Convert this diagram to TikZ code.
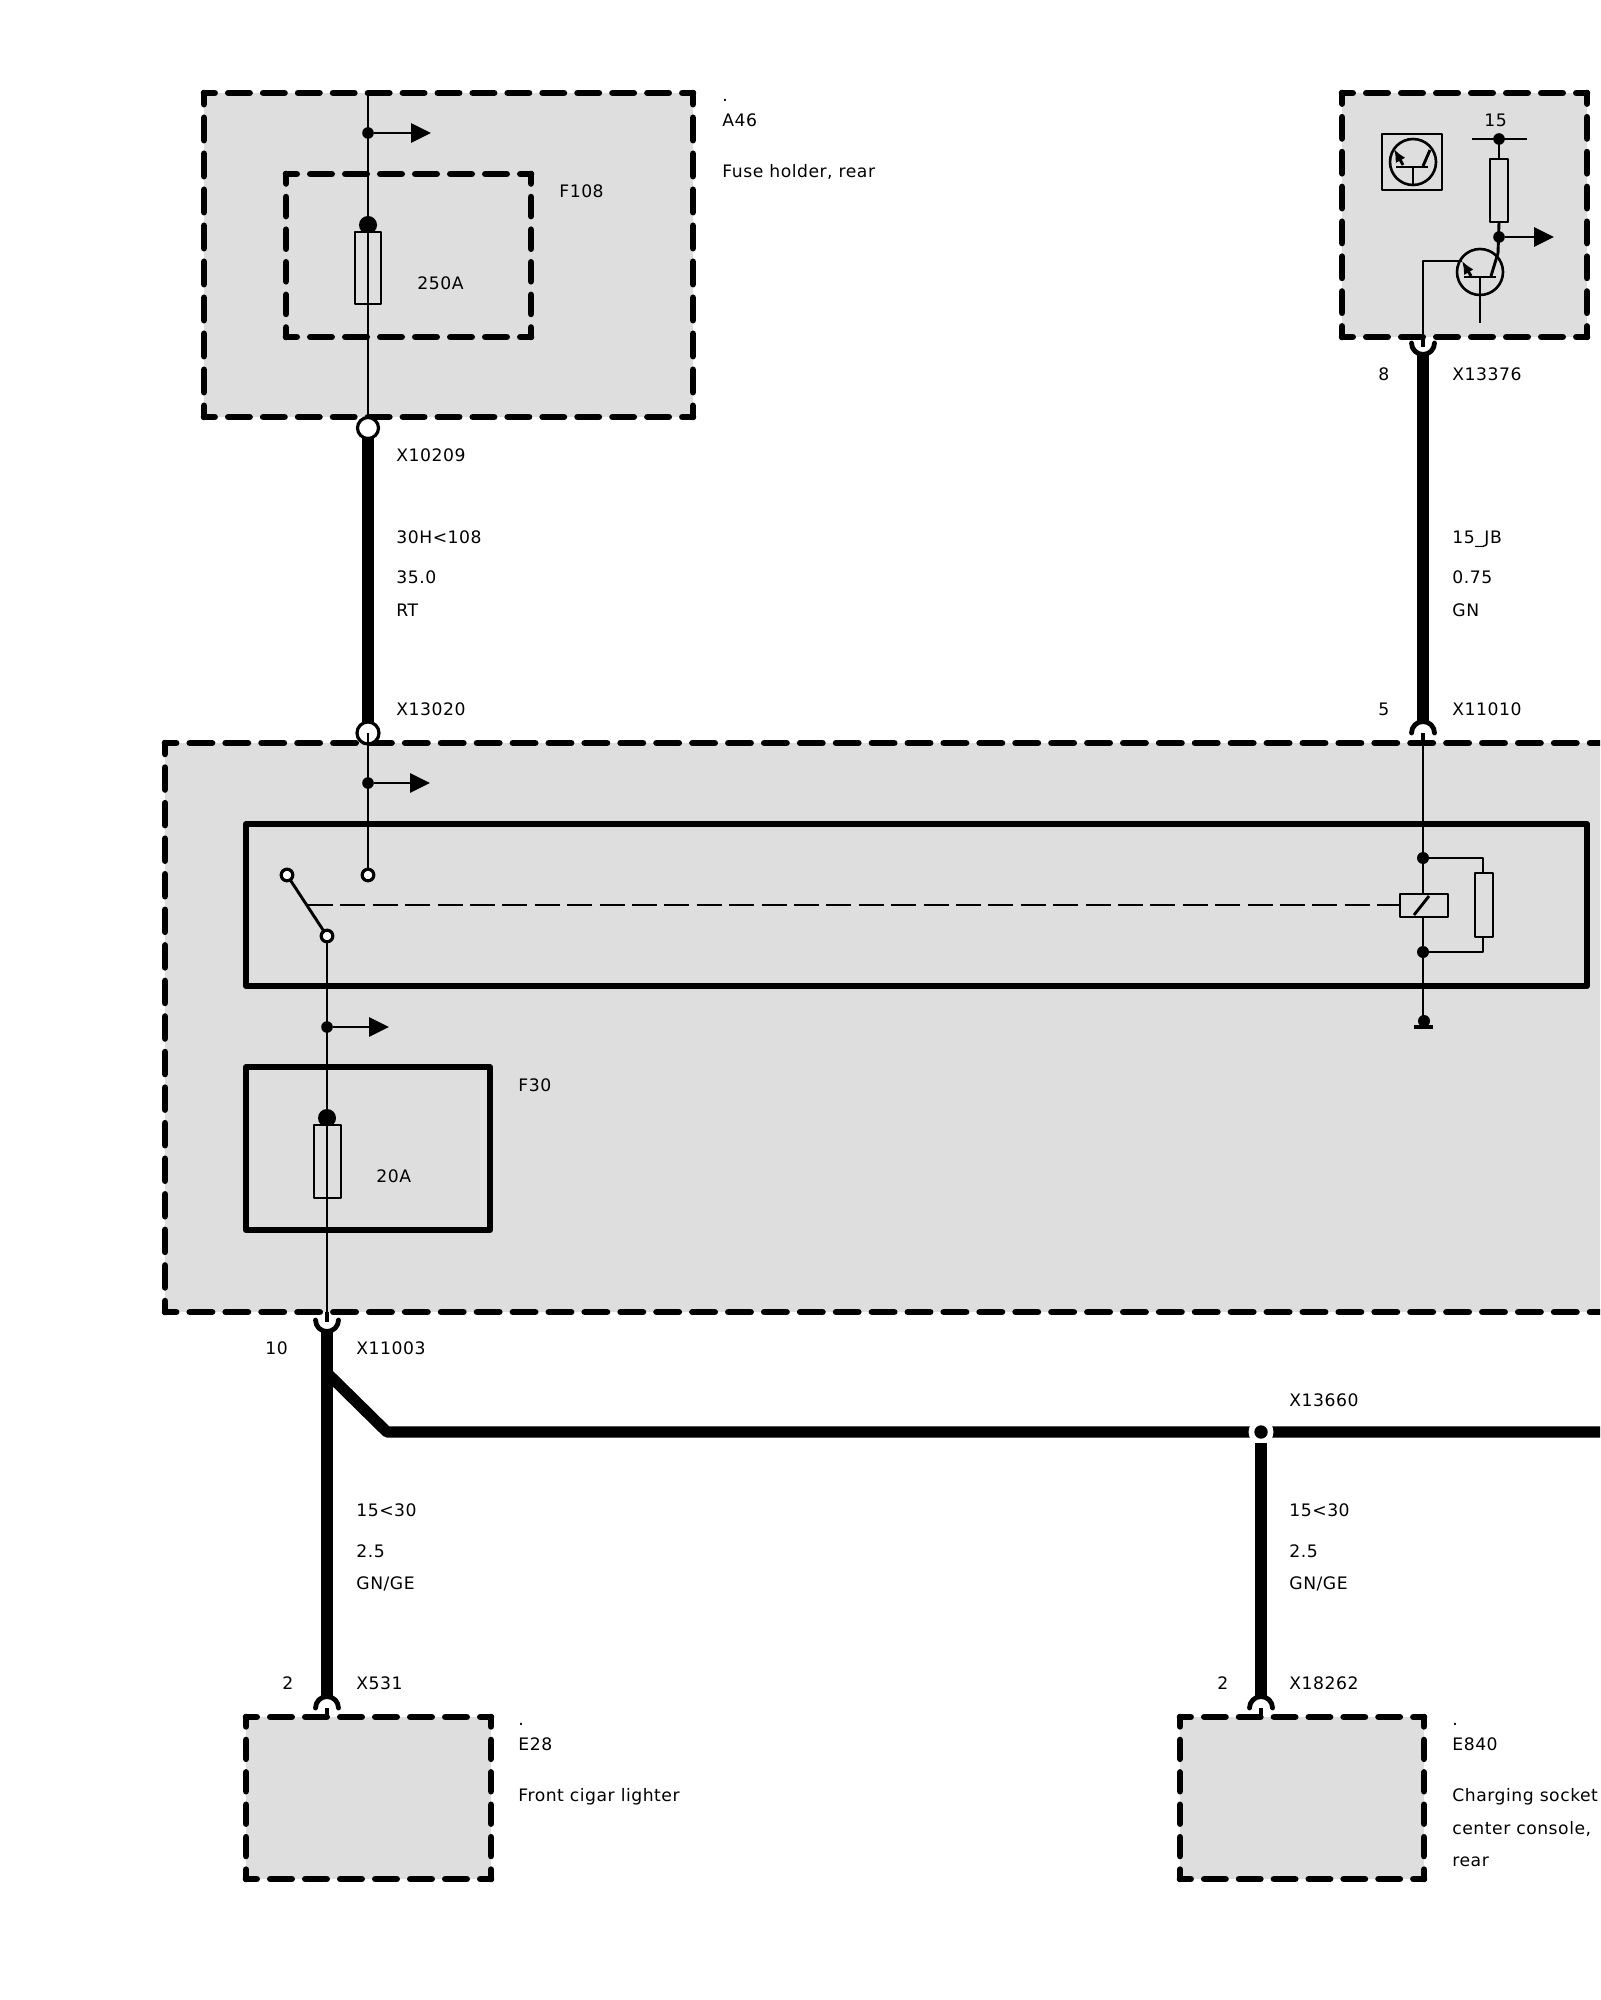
\documentclass[tikz,border=0pt]{standalone}
\usepackage{fontspec}
\setmainfont[LetterSpace=3]{DejaVu Sans}
\usetikzlibrary{arrows.meta,calc,positioning}

\definecolor{boxgray}{HTML}{DEDEDE}

\tikzset{
	lbl/.style={anchor=base west, inner sep=0pt, font=\fontsize{8.6}{10}\selectfont},
	dashside/.style={draw=black, line width=3.3pt, line cap=round},
	solidbox/.style={draw=black, line width=3pt, line join=round},
	wire/.style={draw=black, line width=1.45pt},
	stub/.style={draw=black, line width=2.4pt},
	cable/.style={draw=black, line width=5.6pt},
	elem/.style={draw=black, fill=boxgray, line width=1.3pt},
	tap/.style={draw=black, line width=1.45pt, -{Triangle[length=10pt,width=9.5pt]}},
	blob/.style={circle, fill=black, inner sep=0pt, minimum size=5.8pt},
	ring/.style={circle, draw=black, fill=white, line width=1.6pt, inner sep=0pt},
	cup/.style={draw=black, line width=2.4pt, line cap=round},
	emit/.style={draw=black, line width=1.45pt, -{Latex[length=6.5pt,width=5.5pt]}},
}

% grey unit with a dashed edge: corners x1,y1,x2,y2, then dash periods across and down
\newcommand{\dashrect}[6]{
	\fill[boxgray] (#1,#2) rectangle (#3,#4);
	\pgfmathsetmacro{\onx}{(#3-#1)/#5/2-6.8}
	\pgfmathsetmacro{\ony}{(#4-#2)/#6/2-6.8}
	\pgfmathsetmacro{\phx}{\onx/2}
	\pgfmathsetmacro{\phy}{\ony/2}
	\draw[dashside, dash pattern=on \onx pt off 6.8pt, dash phase=\phx pt] (#1,#2) -- (#3,#2) (#1,#4) -- (#3,#4);
	\draw[dashside, dash pattern=on \ony pt off 6.8pt, dash phase=\phy pt] (#1,#2) -- (#1,#4) (#3,#2) -- (#3,#4);
}

\begin{document}
\begin{tikzpicture}[x=0.5pt, y=-0.5pt, line join=round]
	
	\useasboundingbox (0,0) rectangle (1600,2000);
	\clip (0,0) rectangle (1600,2000);
	
	% grey units first, the wires run over them
	\dashrect{204}{93}{693}{417}{14}{9}
	\dashrect{1342}{93}{1587}{337}{7}{7}
	\dashrect{165}{743}{1673}{1312}{42}{16}
	\dashrect{246}{1717}{491}{1879}{7}{5}
	\dashrect{1180}{1717}{1424}{1879}{7}{5}
	
	\dashrect{286}{174}{531}{337}{7}{5}
	\draw[solidbox] (246,824) rectangle (1587,986);
	\draw[solidbox] (246,1067) rectangle (490,1230);
	
	% fuse holder
	\coordinate (a46top) at (368,93);
	\coordinate (a46out) at (368,428);
	\coordinate (x13020) at (368,733);
	\node[blob, minimum size=9pt] (f108cap) at (368,225) {};
	\draw[elem] (355,232) rectangle (381,304);
	\draw[wire] (a46top) -- (a46out);
	\node[blob] (f108tap) at (368,133) {};
	\coordinate (f108arr) at (431,133);
	\draw[tap] (f108tap) -- (f108arr);
	\draw[cable] (a46out) -- (x13020);
	\node[ring, minimum size=10.5pt] (x10209) at (a46out) {};
	\node[ring, minimum size=11pt] (x13020c) at (x13020) {};
	
	% control unit, top right
	\draw[elem] (1382,134) rectangle (1442,190);
	\coordinate (ic) at (1413,162);
	\draw[elem] (ic) circle (23);
	\draw[wire] (1396,167) -- (1428,167) (1413,167) -- (1413,185);
	\draw[wire] (1430,150) -- (1423,166);
	\draw[emit] (1403,165) -- (1394,149);
	
	\coordinate (t15) at (1499,139);
	\coordinate (tc) at (1498,253);
	\coordinate (tout) at (1499,237);
	\coordinate (tb) at (1480,272);
	\draw[elem] (tb) circle (23);
	\draw[wire] (1472,139) -- (1527,139);
	\draw[wire] (t15) -- (1499,159);
	\draw[elem] (1490,159) rectangle (1508,222);
	\draw[wire] (1499,222) -- (tc) -- (1491,276);
	\draw[wire] (1464,277) -- (1496,277) (1480,277) -- (1480,323);
	\draw[emit] (1471,276) -- (1462,261);
	\node[blob] (t15dot) at (t15) {};
	\node[blob] (toutdot) at (tout) {};
	\coordinate (toutarr) at (1554,237);
	\draw[tap] (toutdot) -- (toutarr);
	
	\coordinate (x13376) at (1423,337);
	\coordinate (x13376b) at (1423,347);
	\coordinate (x11010) at (1423,733);
	\draw[wire] (1462,261) -- (1423,261) -- (x13376);
	\draw[stub] (x13376) -- (x13376b);
	\draw[cup] (1411.5,343) arc (180:0:11.5);
	\draw[cable] (1423,353) -- (1423,722);
	\draw[cup] (1411.5,733) arc (180:360:11.5);
	\draw[stub] (x11010) -- (1423,743);
	
	% relay
	\coordinate (relaygnd) at (1423,1027);
	\coordinate (rtop) at (1423,858);
	\coordinate (rbot) at (1423,952);
	\draw[wire] (x11010) -- (relaygnd);
	\draw[elem] (1400,894) rectangle (1448,917);
	\draw[wire] (1414,915) -- (1429,896);
	\draw[wire] (rtop) -- (1483,858) -- (1483,873);
	\draw[wire] (rbot) -- (1483,952) -- (1483,937);
	\draw[elem] (1475,873) rectangle (1493,937);
	\node[blob, minimum size=6pt] (rtopdot) at (rtop) {};
	\node[blob, minimum size=6pt] (rbotdot) at (rbot) {};
	\node[blob, minimum size=6pt] (gnd) at (1424,1021) {};
	\draw[draw=black, line width=1.7pt] (1414,1027) -- (1433,1027);
	
	% switch
	\coordinate (swin) at (368,875);
	\coordinate (swa) at (287,875);
	\coordinate (swb) at (327,936);
	\draw[wire] (x13020) -- (swin);
	\node[blob] (swtap) at (368,783) {};
	\coordinate (swarr) at (430,783);
	\draw[tap] (swtap) -- (swarr);
	\draw[wire] (swa) -- (swb);
	\draw[draw=black, line width=1.25pt, dash pattern=on 12.5pt off 3.7pt] (308,905) -- (1400,905);
	\node[ring, minimum size=5.8pt] (swind) at (swin) {};
	\node[ring, minimum size=5.8pt] (swad) at (swa) {};
	
	% F30
	\coordinate (x11003) at (327,1312);
	\node[blob, minimum size=9pt] (f30cap) at (327,1118) {};
	\draw[elem] (314,1125) rectangle (341,1198);
	\draw[wire] (swb) -- (x11003);
	\draw[stub] (x11003) -- (327,1322);
	\node[ring, minimum size=5.8pt] (swbd) at (swb) {};
	\node[blob] (f30tap) at (327,1027) {};
	\coordinate (f30arr) at (389,1027);
	\draw[tap] (f30tap) -- (f30arr);
	
	% cables to the loads
	\draw[cup] (315.5,1320) arc (180:0:11.5);
	\coordinate (x531) at (327,1717);
	\coordinate (x18262) at (1261,1717);
	\coordinate (x13660) at (1261,1432);
	\draw[cable] (327,1330) -- (327,1697);
	\draw[cable] (327,1373) -- (387,1432) -- (1640,1432);
	\node[circle, fill=white, inner sep=0pt, minimum size=12.5pt] (x13660w) at (x13660) {};
	\draw[cable] (1261,1443) -- (1261,1697);
	\node[blob, minimum size=6.7pt] (x13660d) at (x13660) {};
	\draw[cup] (315.5,1708) arc (180:360:11.5);
	\draw[cup] (1249.5,1708) arc (180:360:11.5);
	\draw[stub] (327,1708) -- (x531);
	\draw[stub] (1261,1708) -- (x18262);
	
	% labels
	\node[lbl] (a46dot) at (722,102) {.};
	\node[lbl] (a46name) at (722,127) {A46};
	\node[lbl] (a46text) at (722,178) {Fuse holder, rear};
	\node[lbl] (f108name) at (559,198) {F108};
	\node[lbl] (f108amp) at (417,290) {250A};
	\node[lbl] (x10209name) at (396,461) {X10209};
	\node[lbl] (w1a) at (396,543) {30H<108};
	\node[lbl] (w1b) at (396,583) {35.0};
	\node[lbl] (w1c) at (396,616) {RT};
	\node[lbl] (x13020name) at (396,715) {X13020};
	
	\node[lbl] (top15) at (1484,127) {15};
	\node[lbl] (pin8) at (1378,381) {8};
	\node[lbl] (x13376name) at (1452,381) {X13376};
	\node[lbl] (w2a) at (1452,543) {15\_JB};
	\node[lbl] (w2b) at (1452,583) {0.75};
	\node[lbl] (w2c) at (1452,616) {GN};
	\node[lbl] (pin5) at (1378,715) {5};
	\node[lbl] (x11010name) at (1452,715) {X11010};
	
	\node[lbl] (f30name) at (518,1091) {F30};
	\node[lbl] (f30amp) at (376,1182) {20A};
	\node[lbl] (pin10) at (265,1354) {10};
	\node[lbl] (x11003name) at (356,1354) {X11003};
	\node[lbl] (x13660name) at (1289,1406) {X13660};
	
	\node[lbl] (w3a) at (356,1516) {15<30};
	\node[lbl] (w3b) at (356,1557) {2.5};
	\node[lbl] (w3c) at (356,1589) {GN/GE};
	\node[lbl] (pin2a) at (282,1689) {2};
	\node[lbl] (x531name) at (356,1689) {X531};
	
	\node[lbl] (w4a) at (1289,1516) {15<30};
	\node[lbl] (w4b) at (1289,1557) {2.5};
	\node[lbl] (w4c) at (1289,1589) {GN/GE};
	\node[lbl] (pin2b) at (1217,1689) {2};
	\node[lbl] (x18262name) at (1289,1689) {X18262};
	
	\node[lbl] (e28dot) at (518,1725) {.};
	\node[lbl] (e28name) at (518,1750) {E28};
	\node[lbl] (e28text) at (518,1801) {Front cigar lighter};
	
	\node[lbl] (e840dot) at (1452,1725) {.};
	\node[lbl] (e840name) at (1452,1750) {E840};
	\node[lbl] (e840a) at (1452,1801) {Charging socket};
	\node[lbl] (e840b) at (1452,1834) {center console,};
	\node[lbl] (e840c) at (1452,1866) {rear};
	
\end{tikzpicture}
\end{document}
